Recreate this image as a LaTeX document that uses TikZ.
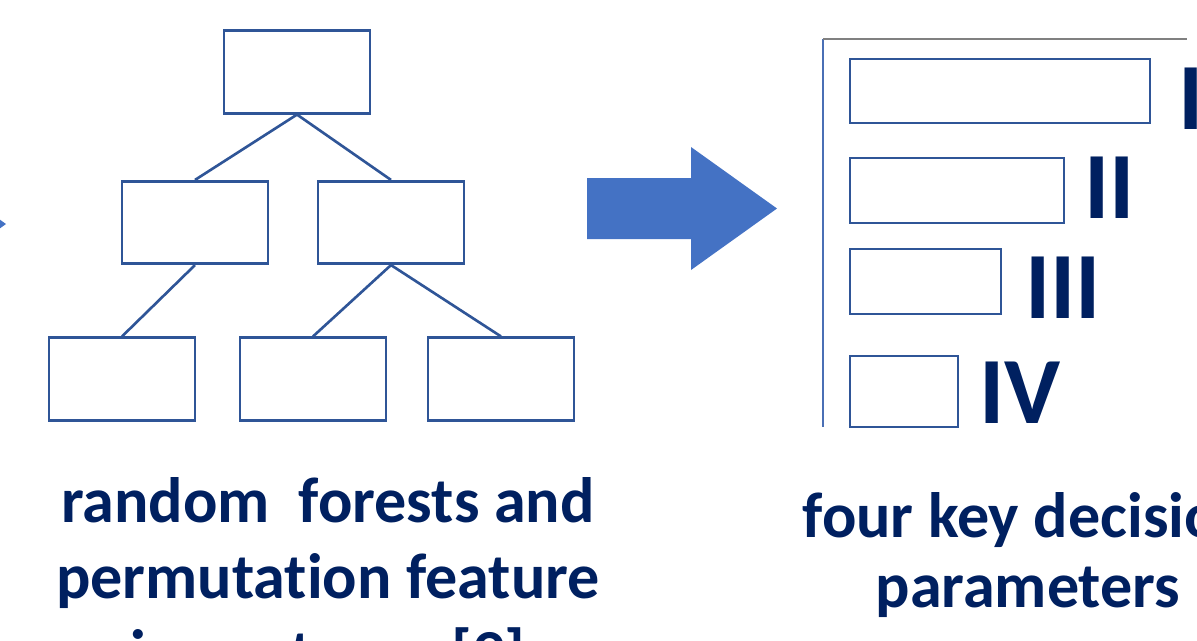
\documentclass[tikz,border=0pt]{standalone}
\usepackage{fontspec}
\setmainfont{Carlito}[Ligatures=NoCommon]
\usepackage{tikz}
\usetikzlibrary{positioning}
\definecolor{boxblue}{HTML}{2F5597}
\definecolor{arrowblue}{HTML}{4472C4}
\definecolor{axisblue}{HTML}{4A6FB5}
\definecolor{navy}{HTML}{002060}
\tikzset{
  treebox/.style={draw=boxblue, line width=1.5pt, minimum width=2.92cm, minimum height=1.65cm, inner sep=0pt},
  treeline/.style={boxblue, line width=1.5pt},
  barbox/.style={draw=boxblue, line width=1.3pt, minimum height=1.29cm, inner sep=0pt, anchor=west},
  numlabel/.style={text=navy, font=\fontsize{54}{54}\selectfont\bfseries, inner sep=0pt},
  caption/.style={text=navy, align=center, inner sep=0pt, anchor=base}
}

\begin{document}
\begin{tikzpicture}[x=0.02cm, y=-0.02cm]
\useasboundingbox (0,0) rectangle (1197,640);
\clip (0,0) rectangle (1197,640);

% arrow coming in from the left
\fill[arrowblue] (-80,162.5) -- (6,224) -- (-80,285.5) -- cycle;

% tree
\node[treebox] (root) at (297,72) {};
\node[treebox] (midL) at (195,222.5) {};
\node[treebox] (midR) at (391,222.5) {};
\node[treebox] (leafA) at (122,379) {};
\node[treebox] (leafB) at (313,379) {};
\node[treebox] (leafC) at (501,379) {};
\draw[treeline] (root.south) -- (midL.north);
\draw[treeline] (root.south) -- (midR.north);
\draw[treeline] (midL.south) -- (leafA.north);
\draw[treeline] (midR.south) -- (leafB.north);
\draw[treeline] (midR.south) -- (leafC.north);

% big arrow
\fill[arrowblue] (587,178) -- (691,178) -- (691,147) -- (777,208.5)
  -- (691,270) -- (691,239) -- (587,239) -- cycle;

% ranking panel
\coordinate (axtop) at (823,39);
\coordinate (axbot) at (823,427);
\coordinate (axend) at (1187,39);
\draw[axisblue, line width=0.8pt] (axtop) -- (axbot);
\draw[gray, line width=1.1pt] (axtop) -- (axend);

\node[barbox, minimum width=6cm] (bar1) at (849,91) {};
\node[barbox, minimum width=4.28cm] (bar2) at (849,190.5) {};
\node[barbox, minimum width=3.02cm] (bar3) at (849,281.5) {};
\node[barbox, minimum width=2.16cm, minimum height=1.42cm] (bar4) at (849,391.5) {};

\node[numlabel, right=0.53cm of bar1, yshift=-0.16cm] (lab1) {I};
\node[numlabel, right=0.37cm of bar2, yshift=0.06cm] (lab2) {II};
\node[numlabel, right=0.45cm of bar3, yshift=-0.13cm] (lab3) {III};
\node[numlabel, right=0.39cm of bar4, yshift=-0.02cm] (lab4) {IV};

% captions (base = last line)
\node[caption, font=\fontsize{36.5}{43.2}\selectfont\bfseries] (leftcap) at (328,674)
  {random\ \ forests and\\permutation feature\\importance [9]};
\node[caption, font=\fontsize{36.5}{39.8}\selectfont\bfseries] (rightcap) at (1028,607)
  {four key decision\\parameters};
\end{tikzpicture}
\end{document}
